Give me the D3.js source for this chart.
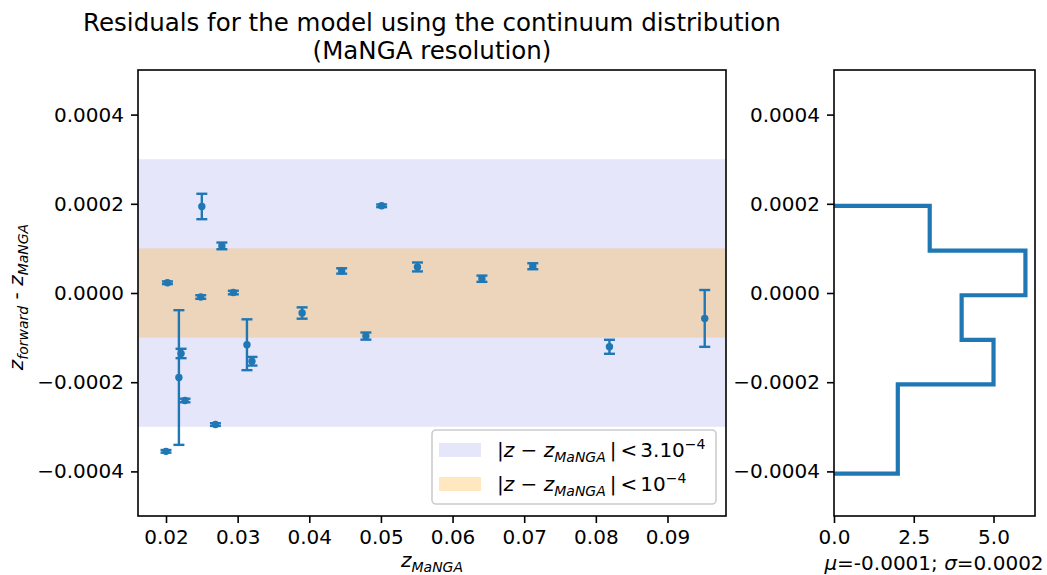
<!DOCTYPE html>
<html>
<head>
<meta charset="utf-8">
<script src="https://cdn.jsdelivr.net/npm/d3@7"></script>
<style>
  body { margin: 0; background: #fff; }
  text { font-family: "DejaVu Sans", sans-serif; fill: #000; }
</style>
</head>
<body>
<svg id="fig" width="1047" height="575"></svg>
<script>
// Redshift of each galaxy (MaNGA) and residual z_forward - z_MaNGA with its 1-sigma error
const zManga = [0.0200, 0.0202, 0.0218, 0.0221, 0.02265, 0.02485, 0.0250, 0.0269, 0.0278, 0.0294,
                0.0313, 0.0320, 0.0390, 0.04452, 0.0479, 0.0501, 0.0551, 0.0641, 0.0712, 0.0819, 0.0952];
const residual = [-3.55e-4, 2.3e-5, -1.895e-4, -1.356e-4, -2.41e-4, -9e-6, 1.94e-4, -2.95e-4, 1.056e-4, 1e-6,
                  -1.16e-4, -1.53e-4, -4.49e-5, 4.94e-5, -9.66e-5, 1.955e-4, 5.84e-5, 3.2e-5, 6.0e-5, -1.206e-4, -5.7e-5];
const residualErr = [3e-6, 3e-6, 1.51e-4, 1.05e-5, 4e-6, 4e-6, 2.85e-5, 3e-6, 7.5e-6, 4e-6,
                     5.7e-5, 9.7e-6, 1.27e-5, 6e-6, 8e-6, 3e-6, 1e-5, 7e-6, 6.7e-6, 1.57e-5, 6.37e-5];

// Tolerance bands
const bandWide = 3e-4;
const bandNarrow = 1e-4;

// Histogram of residuals (horizontal step histogram)
const histEdges = [-4.05e-4, -3.05e-4, -2.05e-4, -1.05e-4, -0.05e-4, 0.95e-4, 1.955e-4];
const histCounts = [2, 2, 5, 4, 6, 3];

// Ticks
const xTicks = [0.02, 0.03, 0.04, 0.05, 0.06, 0.07, 0.08, 0.09];
const yTicks = [-0.0004, -0.0002, 0.0, 0.0002, 0.0004];
const histTicks = [0.0, 2.5, 5.0];

const titleLines = ["Residuals for the model using the continuum distribution", "(MaNGA resolution)"];

const blue = "#1f77b4";
const svg = d3.select("#fig");

// Main panel
const x = d3.scaleLinear().domain([0.01609, 0.09817]).range([138, 726]);
const y = d3.scaleLinear().domain([-0.0005, 0.0005]).range([516, 70]);
// Histogram panel
const hx = d3.scaleLinear().domain([0, 6.3]).range([834, 1035]);

const fmtY = d3.format(".4f");

// Helper: write a run of mixed upright / italic / sub / superscript pieces into a text element
function richText(t, parts) {
  let shift = 0;
  parts.forEach(p => {
    const ts = t.append("tspan").text(p.t);
    let target = 0;
    let size = 20;
    if (p.sub) { target = 4.5; size = 14; }
    if (p.sup) { target = -8; size = 14; }
    if (target !== shift) { ts.attr("dy", target - shift); shift = target; }
    ts.style("font-size", size + "px");
    if (p.it) ts.style("font-style", "italic");
    if (p.dx) ts.attr("dx", p.dx);
  });
}

// Bands
svg.append("rect")
  .attr("x", x.range()[0]).attr("width", x.range()[1] - x.range()[0])
  .attr("y", y(bandWide)).attr("height", y(-bandWide) - y(bandWide))
  .attr("fill", "#e6e6fa");
svg.append("rect")
  .attr("x", x.range()[0]).attr("width", x.range()[1] - x.range()[0])
  .attr("y", y(bandNarrow)).attr("height", y(-bandNarrow) - y(bandNarrow))
  .attr("fill", "orange").attr("fill-opacity", 0.25);

// Error bars
const pts = zManga.map((z, i) => ({ z, r: residual[i], e: residualErr[i] }));
const eb = svg.append("g").attr("stroke", blue).attr("fill", blue);
const capHalf = 5.5;
pts.forEach(d => {
  const cx = x(d.z);
  const y0 = y(d.r - d.e), y1 = y(d.r + d.e);
  eb.append("line").attr("x1", cx).attr("x2", cx).attr("y1", y0).attr("y2", y1).attr("stroke-width", 2.4);
  [y0, y1].forEach(cy => eb.append("line")
    .attr("x1", cx - capHalf).attr("x2", cx + capHalf).attr("y1", cy).attr("y2", cy).attr("stroke-width", 2.4));
  eb.append("circle").attr("cx", cx).attr("cy", y(d.r)).attr("r", 3.7).attr("stroke", "none");
});

// Axes for main panel
const xAxis = svg.append("g").attr("transform", "translate(0,516)")
  .call(d3.axisBottom(x).tickValues(xTicks).tickFormat(d3.format(".2f")).tickSize(7).tickPadding(7));
const yAxis = svg.append("g").attr("transform", "translate(138,0)")
  .call(d3.axisLeft(y).tickValues(yTicks).tickFormat(fmtY).tickSize(7).tickPadding(7));

// Axes for histogram panel
const hxAxis = svg.append("g").attr("transform", "translate(0,516)")
  .call(d3.axisBottom(hx).tickValues(histTicks).tickFormat(d3.format(".1f")).tickSize(7).tickPadding(7));
const hyAxis = svg.append("g").attr("transform", "translate(834,0)")
  .call(d3.axisLeft(y).tickValues(yTicks).tickFormat(fmtY).tickSize(7).tickPadding(7));

[xAxis, yAxis, hxAxis, hyAxis].forEach(g => {
  g.select(".domain").remove();
  g.selectAll(".tick line").attr("stroke", "#000").attr("stroke-width", 1.6);
  g.selectAll(".tick text").style("font-size", "20px").attr("fill", "#000")
    .style("font-family", "'DejaVu Sans', sans-serif");
});

// Step histogram outline
const stepPts = [[0, histEdges[0]]];
histCounts.forEach((c, i) => {
  stepPts.push([c, histEdges[i]]);
  stepPts.push([c, histEdges[i + 1]]);
});
stepPts.push([0, histEdges[histEdges.length - 1]]);
svg.append("path")
  .attr("d", d3.line().x(d => hx(d[0])).y(d => y(d[1]))(stepPts))
  .attr("fill", "none").attr("stroke", blue).attr("stroke-width", 4.2)
  .attr("stroke-linejoin", "miter");

// Spines
svg.append("rect").attr("x", 138).attr("y", 70).attr("width", 588).attr("height", 446)
  .attr("fill", "none").attr("stroke", "#000").attr("stroke-width", 1.6);
svg.append("rect").attr("x", 834).attr("y", 70).attr("width", 201).attr("height", 446)
  .attr("fill", "none").attr("stroke", "#000").attr("stroke-width", 1.6);

// Legend
const lg = svg.append("g");
lg.append("rect").attr("x", 432).attr("y", 430).attr("width", 284).attr("height", 74)
  .attr("rx", 4).attr("fill", "#fff").attr("fill-opacity", 0.8)
  .attr("stroke", "#cccccc").attr("stroke-width", 1.6);
lg.append("rect").attr("x", 439).attr("y", 443).attr("width", 42).attr("height", 14).attr("fill", "#e6e6fa");
lg.append("rect").attr("x", 439).attr("y", 477).attr("width", 42).attr("height", 14)
  .attr("fill", "orange").attr("fill-opacity", 0.25);
richText(lg.append("text").attr("x", 497).attr("y", 457), [
  { t: "|" }, { t: "z", it: true }, { t: " − " }, { t: "z", it: true }, { t: "MaNGA", it: true, sub: true },
  { t: "|", dx: 4 }, { t: "<", dx: 4 }, { t: "3.10", dx: 3 }, { t: "−4", sup: true }
]);
richText(lg.append("text").attr("x", 497).attr("y", 491), [
  { t: "|" }, { t: "z", it: true }, { t: " − " }, { t: "z", it: true }, { t: "MaNGA", it: true, sub: true },
  { t: "|", dx: 4 }, { t: "<", dx: 4 }, { t: "10", dx: 3 }, { t: "−4", sup: true }
]);

// Axis labels
richText(svg.append("text").attr("x", 432).attr("y", 567).attr("text-anchor", "middle"), [
  { t: "z", it: true }, { t: "MaNGA", it: true, sub: true }
]);
richText(svg.append("text").attr("transform", "translate(23,297) rotate(-90)").attr("text-anchor", "middle"), [
  { t: "z", it: true }, { t: "forward", it: true, sub: true }, { t: " - " },
  { t: "z", it: true }, { t: "MaNGA", it: true, sub: true }
]);
richText(svg.append("text").attr("x", 934).attr("y", 570).attr("text-anchor", "middle"), [
  { t: "μ", it: true }, { t: "=-0.0001; " }, { t: "σ", it: true }, { t: "=0.0002" }
]);

// Title
titleLines.forEach((s, i) => {
  svg.append("text").attr("x", 432).attr("y", 31 + i * 28).attr("text-anchor", "middle")
    .style("font-size", "24.5px").text(s);
});
</script>
</body>
</html>
